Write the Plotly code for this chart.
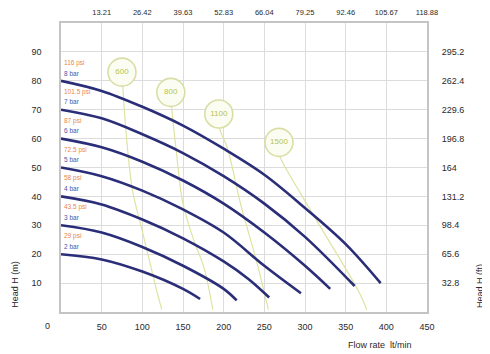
import plotly.graph_objects as go

# ---- data ----
pressures_bar = ["8 bar", "7 bar", "6 bar", "5 bar", "4 bar", "3 bar", "2 bar"]
pressures_psi = ["116 psi", "101.5 psi", "87 psi", "72.5 psi", "58 psi", "43.5 psi", "29 psi"]

flow_8 = [0, 50, 100, 150, 200, 250, 300, 350, 393]
head_8 = [80, 76.5, 71, 64.5, 56.5, 47.5, 36, 23.5, 10]
flow_7 = [0, 50, 100, 150, 200, 250, 300, 361]
head_7 = [70, 67, 61.5, 55, 47, 37.5, 26, 9]
flow_6 = [0, 50, 100, 150, 200, 250, 300, 331]
head_6 = [60, 57, 52, 45.5, 37.5, 27.5, 16, 8]
flow_5 = [0, 50, 100, 150, 200, 250, 295]
head_5 = [50, 47, 42, 35.5, 27.5, 16, 6.5]
flow_4 = [0, 50, 100, 150, 200, 230, 256]
head_4 = [40, 37.2, 32, 25.5, 17.5, 11.5, 5]
flow_3 = [0, 50, 100, 150, 200, 216]
head_3 = [30, 27.5, 22.5, 16, 8, 4]
flow_2 = [0, 50, 100, 150, 171]
head_2 = [20, 18.2, 14, 8, 4.5]

air_labels = ["600", "800", "1100", "1500"]
air_flow_600 = [75, 76, 80, 88, 100, 118, 124]
air_head_600 = [83, 78, 62, 42, 28, 7, 0.8]
air_flow_800 = [135, 136, 142, 149.6, 163, 175.5, 186.7]
air_head_800 = [76, 71, 55, 38, 25, 15.6, 0.8]
air_flow_1100 = [194, 195, 205, 221, 240, 255]
air_head_1100 = [68.5, 63.6, 56.3, 37.2, 18, 0.8]
air_flow_1500 = [268, 269, 273, 311.5, 367, 376]
air_head_1500 = [58.7, 54, 51.5, 33, 6.6, 0.8]

flow_ticks = [50, 100, 150, 200, 250, 300, 350, 400, 450]
gpm_labels = ["13.21", "26.42", "39.63", "52.83", "66.04", "79.25", "92.46", "105.67", "118.88"]
head_ticks = [10, 20, 30, 40, 50, 60, 70, 80, 90]
ft_labels = ["32.8", "65.6", "98.4", "131.2", "164", "196.8", "229.6", "262.4", "295.2"]

pump_curves = [(flow_8, head_8), (flow_7, head_7), (flow_6, head_6), (flow_5, head_5),
               (flow_4, head_4), (flow_3, head_3), (flow_2, head_2)]
air_curves = [(air_flow_600, air_head_600), (air_flow_800, air_head_800),
              (air_flow_1100, air_head_1100), (air_flow_1500, air_head_1500)]

FONT = "Liberation Sans"
NAVY = "#2a2e78"
GREEN_LINE = "#dfe3a2"

fig = go.Figure()

# air consumption lines
for fx, hy in air_curves:
    fig.add_trace(go.Scatter(x=fx, y=hy, mode="lines", line=dict(color=GREEN_LINE, width=1.2, shape="spline"),
                             hoverinfo="skip", showlegend=False))

# pump curves
for fx, hy in pump_curves:
    fig.add_trace(go.Scatter(x=fx, y=hy, mode="lines", line=dict(color=NAVY, width=2.6, shape="spline"),
                             showlegend=False))

# air consumption circles
fig.add_trace(go.Scatter(
    x=[c[0][0] for c in air_curves], y=[c[1][0] for c in air_curves],
    mode="markers+text", text=air_labels, textposition="middle center",
    textfont=dict(family=FONT, size=8, color="#b4c44c"),
    marker=dict(size=28, color="#fcfdf2", line=dict(color="#d9dea6", width=1.6)),
    showlegend=False))

# invisible trace for secondary axes
fig.add_trace(go.Scatter(x=[0, 450], y=[0, 0], xaxis="x2", yaxis="y2", mode="markers",
                         marker=dict(opacity=0), showlegend=False, hoverinfo="skip"))

# pressure labels
for (fx, hy), psi, bar in zip(pump_curves, pressures_psi, pressures_bar):
    h0 = hy[0]
    fig.add_annotation(x=1.5, y=h0 + 6.2, text=psi, showarrow=False, xanchor="left",
                       font=dict(family=FONT, size=6.5, color="#e8874a"))
    fig.add_annotation(x=1.5, y=h0 + 2.7, text=bar, showarrow=False, xanchor="left",
                       font=dict(family=FONT, size=6.5, color="#4a55a8"))

tickfont = dict(family=FONT, size=9, color="#2a2a2a")

fig.update_layout(
    width=482, height=346,
    margin=dict(l=53, r=63, t=15, b=42),
    paper_bgcolor="white", plot_bgcolor="white",
    xaxis=dict(range=[0, 450], tickvals=flow_ticks, showgrid=True, gridcolor="#dcdcdc", gridwidth=1,
               zeroline=False, showline=True, linecolor="#c4c4c4", linewidth=1.5, mirror=True,
               automargin=False,
               ticks="outside", ticklen=5, tickcolor="rgba(0,0,0,0)", tickfont=tickfont),
    yaxis=dict(range=[0, 100], tickvals=head_ticks, showgrid=True, gridcolor="#dcdcdc", gridwidth=1,
               zeroline=False, showline=True, linecolor="#c4c4c4", linewidth=1.5, mirror=True,
               automargin=False,
               ticks="outside", ticklen=16, tickcolor="rgba(0,0,0,0)", tickfont=tickfont),
    xaxis2=dict(range=[0, 450], overlaying="x", side="top", tickvals=flow_ticks, ticktext=gpm_labels,
                showgrid=False, zeroline=False, showline=False, automargin=False,
                ticks="outside", ticklen=4, tickcolor="rgba(0,0,0,0)",
                tickfont=dict(family=FONT, size=7.5, color="#2a2a2a")),
    yaxis2=dict(range=[0, 100], overlaying="y", side="right", tickvals=head_ticks, ticktext=ft_labels,
                showgrid=False, zeroline=False, showline=False, automargin=False,
                ticks="outside", ticklen=12, tickcolor="rgba(0,0,0,0)", tickfont=tickfont),
)

# origin label and axis titles (paper coordinates, centred)
ann = dict(xref="paper", yref="paper", showarrow=False, xanchor="center", yanchor="middle")
fig.add_annotation(x=-0.038, y=-0.048, text="0", font=tickfont, **ann)
fig.add_annotation(text="Head H (m)", x=-0.126, y=0.097, textangle=-90,
                   font=dict(family=FONT, size=9, color="#2a2a2a"), **ann)
fig.add_annotation(text="Head H (ft)", x=1.145, y=0.09, textangle=-90,
                   font=dict(family=FONT, size=9, color="#2a2a2a"), **ann)
fig.add_annotation(text="Flow rate  lt/min", x=0.872, y=-0.114,
                   font=dict(family=FONT, size=9, color="#2a2a2a"), **ann)

fig.write_html("out.html")
